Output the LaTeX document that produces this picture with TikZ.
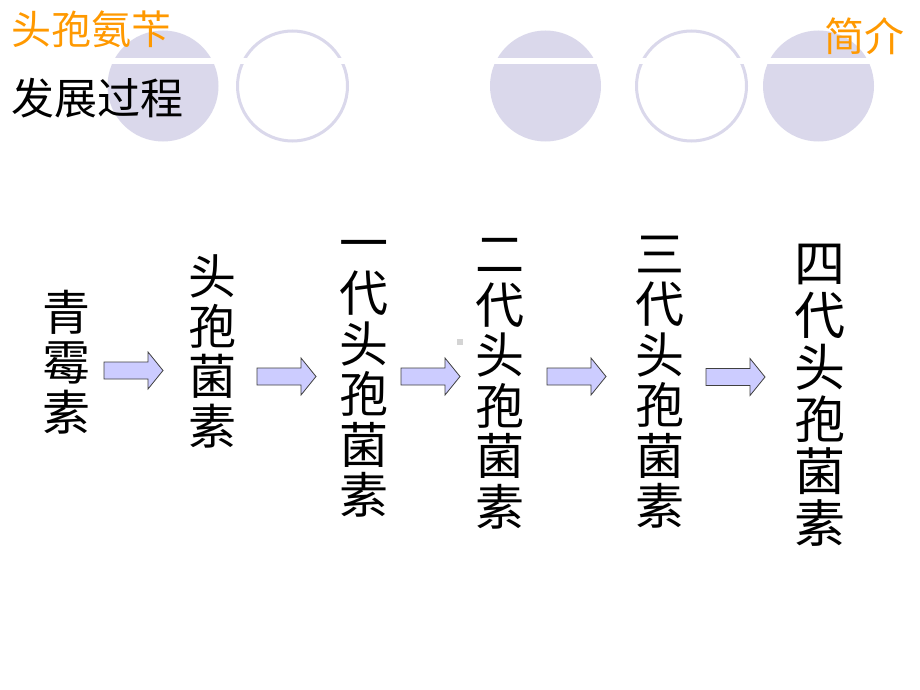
\documentclass[tikz,border=0pt]{standalone}
\usepackage{fontspec}
\newfontfamily\cjk{Noto Sans CJK SC}
\definecolor{lav}{HTML}{DAD8EB}
\definecolor{ttl}{HTML}{FF9900}
\definecolor{arrfill}{HTML}{CCCCFF}
\definecolor{arrline}{HTML}{404040}
\definecolor{dotgray}{HTML}{D4D4D4}
\tikzset{
  disc/.style={fill=lav},
  ring/.style={draw=lav, line width=3pt},
  col/.style={font=\cjk\fontsize{48}{50}\selectfont, align=center, inner sep=0pt},
  colb/.style={font=\cjk\fontsize{49}{50.5}\selectfont, align=center, inner sep=0pt},
  colc/.style={font=\cjk\fontsize{51}{52}\selectfont, align=center, inner sep=0pt},
  ttlstyle/.style={font=\cjk\fontsize{40}{48}\selectfont, text=ttl, inner sep=0pt},
  subttl/.style={font=\cjk\fontsize{43}{50}\selectfont, text=black, inner sep=0pt},
  blockarrow/.style={fill=arrfill, draw=arrline, line width=0.8pt, line join=miter},
  barrow/.pic={\path[blockarrow] (0,-8.5) -- (44,-8.5) -- (44,-18.5) -- (59,0) -- (44,18.5) -- (44,8.5) -- (0,8.5) -- cycle;}
}
\begin{document}
\begin{tikzpicture}[x=1pt,y=-1pt]
\useasboundingbox[fill=white] (0,0) rectangle (920,690);
% header circles
\fill[disc] (163,86) circle (55.5pt);
\draw[ring] (292.5,86) circle (55pt);
\fill[disc] (545.5,86) circle (55.5pt);
\draw[ring] (691.5,86) circle (55pt);
\fill[disc] (818.5,86) circle (55.5pt);
\draw[white, line width=6pt] (95,61) -- (890,61);
% titles
\node[ttlstyle, anchor=west] (t1) at (11,29) {头孢氨苄};
\node[ttlstyle, anchor=east] (t2) at (905,36) {简介};
\node[subttl, anchor=west] (t3) at (11,98) {发展过程};
% columns
\node[col] (n1) at (66,362) {青\\霉\\素};
\node[col] (n2) at (212,351) {头\\孢\\菌\\素};
\node[colb] (n3) at (364,379) {一\\代\\头\\孢\\菌\\素};
\node[colb] (n4) at (500,384) {二\\代\\头\\孢\\菌\\素};
\node[colb] (n5) at (660,382) {三\\代\\头\\孢\\菌\\素};
\node[colc] (n6) at (820,395) {四\\代\\头\\孢\\菌\\素};
% arrows
\pic (a1) at (104,370.5) {barrow};
\pic (a2) at (257,376.5) {barrow};
\pic (a3) at (401,376.5) {barrow};
\pic (a4) at (547,376.5) {barrow};
\pic (a5) at (706,377) {barrow};
% small gray mark
\fill[dotgray] (457,339) rectangle (463,345);
\end{tikzpicture}
\end{document}
